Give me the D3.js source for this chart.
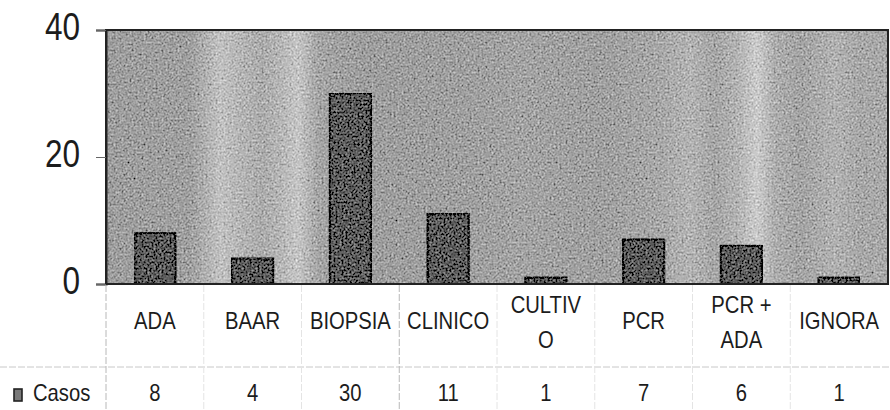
<!DOCTYPE html>
<html>
<head>
<meta charset="utf-8">
<script src="https://cdn.jsdelivr.net/npm/d3@7"></script>
<style>
  html, body { margin: 0; padding: 0; background: #ffffff; }
  svg { display: block; }
  text { font-family: "Liberation Sans", Arial, sans-serif; fill: #1c1c1c; }
</style>
</head>
<body>
<svg id="chart" width="890" height="410"></svg>
<script>
// Data
const categories = ["ADA", "BAAR", "BIOPSIA", "CLINICO", "CULTIVO", "PCR", "PCR + ADA", "IGNORA"];
const categoryLines = [["ADA"], ["BAAR"], ["BIOPSIA"], ["CLINICO"], ["CULTIV", "O"], ["PCR"], ["PCR +", "ADA"], ["IGNORA"]];
const seriesName = "Casos";
const casos = [8, 4, 30, 11, 1, 7, 6, 1];
const yTicks = [0, 20, 40];

// Layout
const W = 890, H = 410;
const plot = { left: 106, right: 888, top: 30, bottom: 284 };
const tableRowY = 367;
const squeeze = 0.88;      // horizontal condensing of table lettering
const tickSqueeze = 0.83;  // horizontal condensing of axis numbers

const svg = d3.select("#chart");

const x = d3.scaleBand()
  .domain(categories)
  .range([plot.left, plot.right])
  .paddingInner(0.58)
  .paddingOuter(0.29);

const y = d3.scaleLinear()
  .domain([0, 40])
  .range([plot.bottom, plot.top]);

// Condensed text placed at (px, py)
function narrowText(parent, px, py, size, anchor) {
  return parent.append("text")
    .attr("transform", `translate(${px},${py}) scale(${squeeze},1)`)
    .attr("font-size", size)
    .attr("text-anchor", anchor || "start");
}

// Grainy grey plot fill with lighter vertical streaks
const defs = svg.append("defs");
const grad = defs.append("linearGradient")
  .attr("id", "streaks")
  .attr("gradientUnits", "userSpaceOnUse")
  .attr("x1", plot.left).attr("x2", plot.right).attr("y1", 0).attr("y2", 0);
const streakStops = [
  [106, "#9e9e9e"], [190, "#a0a0a0"], [205, "#b0b0b0"], [220, "#c2c2c2"], [240, "#b6b6b6"],
  [262, "#acacac"], [280, "#b6b6b6"], [298, "#c6c6c6"], [318, "#a6a6a6"],
  [360, "#9e9e9e"], [470, "#a0a0a0"], [520, "#a4a4a4"], [600, "#a0a0a0"],
  [660, "#a8a8a8"], [690, "#b4b4b4"], [715, "#a6a6a6"], [738, "#b4b4b4"],
  [757, "#cccccc"], [775, "#aeaeae"], [800, "#a4a4a4"], [835, "#b2b2b2"],
  [860, "#a8a8a8"], [888, "#aaaaaa"]
];
grad.selectAll("stop").data(streakStops).join("stop")
  .attr("offset", d => (d[0] - plot.left) / (plot.right - plot.left))
  .attr("stop-color", d => d[1]);

const grain = defs.append("filter")
  .attr("id", "grain")
  .attr("x", 0).attr("y", 0).attr("width", 1).attr("height", 1);
grain.append("feTurbulence")
  .attr("type", "fractalNoise").attr("baseFrequency", 0.5)
  .attr("numOctaves", 2).attr("seed", 7).attr("result", "noise");
grain.append("feColorMatrix")
  .attr("in", "noise").attr("type", "matrix")
  .attr("values", "0.33 0.33 0.33 0 0  0.33 0.33 0.33 0 0  0.33 0.33 0.33 0 0  0 0 0 0 1")
  .attr("result", "grey");
grain.append("feComposite")
  .attr("in", "SourceGraphic").attr("in2", "grey")
  .attr("operator", "arithmetic")
  .attr("k1", 0).attr("k2", 1).attr("k3", 1.3).attr("k4", -0.65)
  .attr("result", "mixed");
grain.append("feComposite")
  .attr("in", "mixed").attr("in2", "SourceAlpha")
  .attr("operator", "in");

svg.append("rect")
  .attr("x", plot.left).attr("y", plot.top)
  .attr("width", plot.right - plot.left).attr("height", plot.bottom - plot.top)
  .attr("fill", "url(#streaks)")
  .attr("filter", "url(#grain)");

// Bars
svg.append("g")
  .attr("filter", "url(#grain)")
  .selectAll("rect")
  .data(casos)
  .join("rect")
  .attr("x", (d, i) => x(categories[i]))
  .attr("y", d => y(d))
  .attr("width", x.bandwidth())
  .attr("height", d => y(0) - y(d))
  .attr("fill", "#5c5c5c")
  .attr("stroke", "#161616")
  .attr("stroke-width", 2.2);

// Plot frame
svg.append("rect")
  .attr("x", plot.left).attr("y", plot.top)
  .attr("width", plot.right - plot.left).attr("height", plot.bottom - plot.top)
  .attr("fill", "none")
  .attr("stroke", "#222")
  .attr("stroke-width", 2);

// Value axis
const tickSize = 10, tickPad = 16;
const yAxis = svg.append("g")
  .attr("transform", `translate(${plot.left},0)`)
  .call(d3.axisLeft(y).tickValues(yTicks).tickFormat(d3.format("d")).tickSize(tickSize).tickPadding(tickPad));
yAxis.select(".domain").attr("stroke", "#222").attr("stroke-width", 2);
yAxis.selectAll(".tick line").attr("stroke", "#666");
yAxis.selectAll(".tick text")
  .attr("font-size", 38)
  .attr("dy", "0.26em")
  .attr("x", -(tickSize + tickPad) / tickSqueeze)
  .attr("transform", `scale(${tickSqueeze},1)`)
  .style("font-family", "'Liberation Sans', Arial, sans-serif")
  .style("fill", "#1c1c1c");

// Data table grid
const grid = svg.append("g")
  .attr("stroke", "#c8c8c8")
  .attr("stroke-width", 1)
  .attr("stroke-dasharray", "7 2");
grid.append("line")
  .attr("x1", 0).attr("x2", W)
  .attr("y1", tableRowY).attr("y2", tableRowY);
const boundaries = categories.map(c => x(c) - x.step() * x.paddingOuter());
grid.selectAll("line.col")
  .data(boundaries)
  .join("line")
  .attr("class", "col")
  .attr("x1", d => d).attr("x2", d => d)
  .attr("y1", plot.bottom + 1).attr("y2", H)
  .attr("stroke", (d, i) => (i === 0 || i === 3) ? "#b8b8b8" : "#e4e4e4");

// Category labels
const center = c => x(c) + x.bandwidth() / 2;
const labels = svg.append("g");
categories.forEach((c, i) => {
  const lines = categoryLines[i];
  const top = lines.length === 1 ? 329 : 313;
  const t = narrowText(labels, center(c), top, 23, "middle");
  t.selectAll("tspan")
    .data(lines)
    .join("tspan")
    .attr("x", 0)
    .attr("dy", (d, j) => j === 0 ? 0 : 35)
    .text(d => d);
});

// Legend key and series row
svg.append("rect")
  .attr("x", 14).attr("y", 389)
  .attr("width", 8).attr("height", 12)
  .attr("fill", "#7a7a7a")
  .attr("stroke", "#222")
  .attr("stroke-width", 1.6);
narrowText(svg, 33, 401, 23).text(seriesName);

const values = svg.append("g");
casos.forEach((v, i) => {
  narrowText(values, center(categories[i]), 401, 23, "middle").text(v);
});
</script>
</body>
</html>
